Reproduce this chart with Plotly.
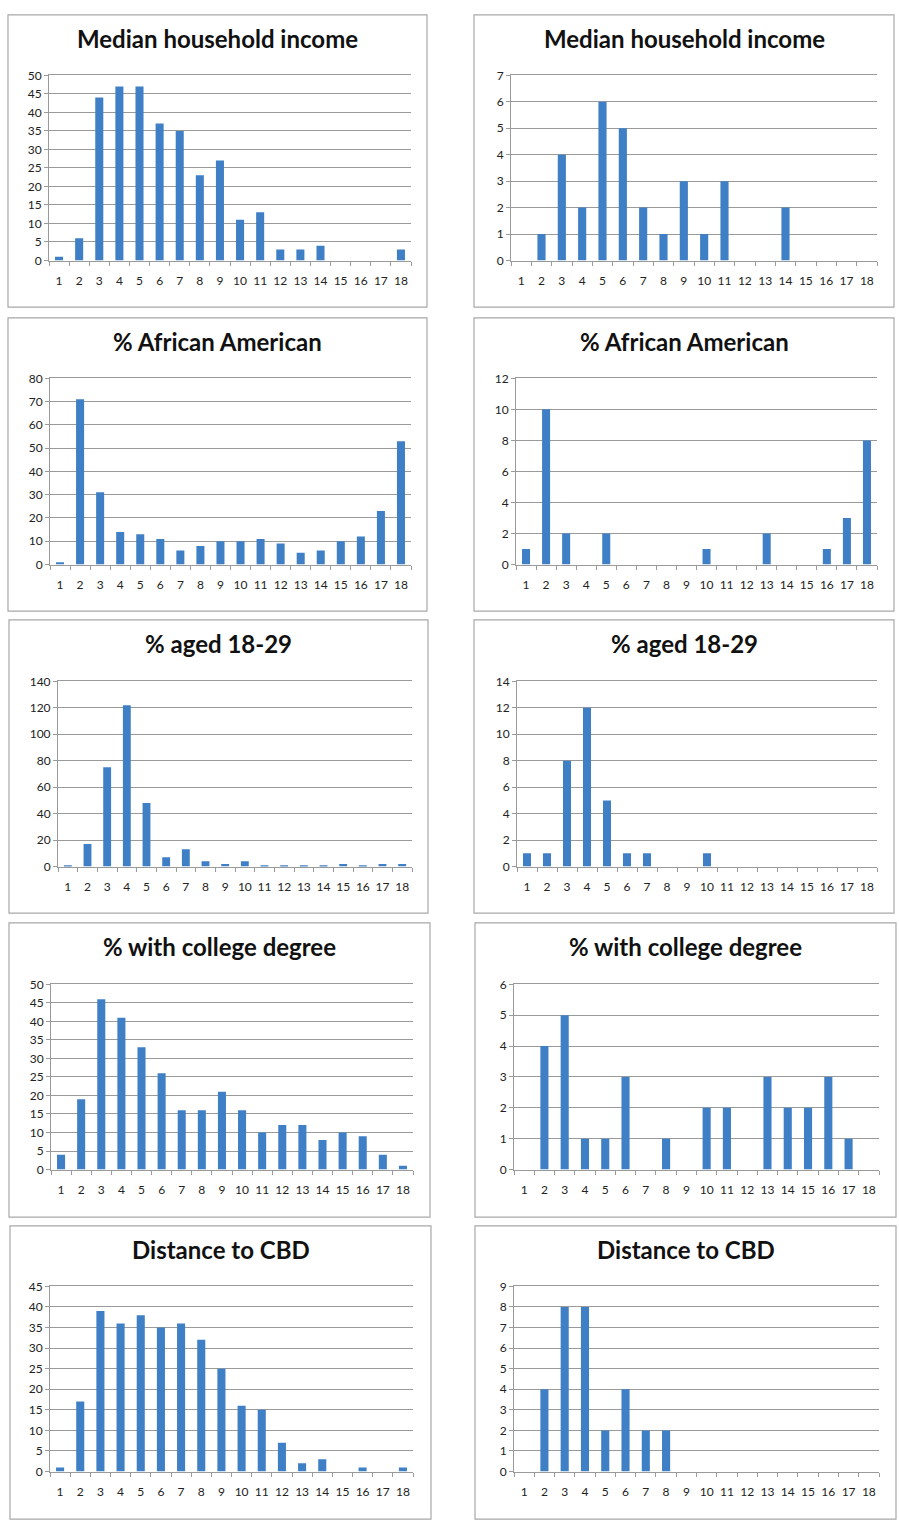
import plotly.graph_objects as go

W, H = 899, 1534

categories = [str(i) for i in range(1, 19)]

income_left = [1, 6, 44, 47, 47, 37, 35, 23, 27, 11, 13, 3, 3, 4, 0, 0, 0, 3]
income_right = [0, 1, 4, 2, 6, 5, 2, 1, 3, 1, 3, 0, 0, 2, 0, 0, 0, 0]
african_left = [1, 71, 31, 14, 13, 11, 6, 8, 10, 10, 11, 9, 5, 6, 10, 12, 23, 53]
african_right = [1, 10, 2, 0, 2, 0, 0, 0, 0, 1, 0, 0, 2, 0, 0, 1, 3, 8]
aged_left = [1, 17, 75, 122, 48, 7, 13, 4, 2, 4, 1, 1, 1, 1, 2, 1, 2, 2]
aged_right = [1, 1, 8, 12, 5, 1, 1, 0, 0, 1, 0, 0, 0, 0, 0, 0, 0, 0]
college_left = [4, 19, 46, 41, 33, 26, 16, 16, 21, 16, 10, 12, 12, 8, 10, 9, 4, 1]
college_right = [0, 4, 5, 1, 1, 3, 0, 1, 0, 2, 2, 0, 3, 2, 2, 3, 1, 0]
cbd_left = [1, 17, 39, 36, 38, 35, 36, 32, 25, 16, 15, 7, 2, 3, 0, 1, 0, 1]
cbd_right = [0, 4, 8, 8, 2, 4, 2, 2, 0, 0, 0, 0, 0, 0, 0, 0, 0, 0]

titles = ["Median household income", "Median household income",
          "% African American", "% African American",
          "% aged 18-29", "% aged 18-29",
          "% with college degree", "% with college degree",
          "Distance to CBD", "Distance to CBD"]
series = [income_left, income_right, african_left, african_right,
          aged_left, aged_right, college_left, college_right,
          cbd_left, cbd_right]
y_max = [50, 7, 80, 12, 140, 14, 50, 6, 45, 9]
y_step = [5, 1, 10, 2, 20, 2, 5, 1, 5, 1]

# plot areas in pixels: left, right, top, bottom
areas = [(49, 411, 68, 255), (511, 877, 68, 255),
         (50, 411, 374, 562), (516, 877, 374, 562),
         (58, 412, 680, 867), (517, 877, 680, 867),
         (51, 413, 986, 1173), (514, 879, 986, 1173),
         (50, 413, 1291, 1478), (514, 879, 1291, 1478)]
# panel frames in pixels: left, right, top, bottom
frames = [(8, 427, 7, 302), (474, 894, 7, 302),
          (8, 427, 313, 609), (474, 894, 313, 609),
          (9, 428, 618, 914), (474, 894, 618, 914),
          (9, 430, 924, 1221), (475, 896, 924, 1221),
          (10, 431, 1230, 1526), (475, 896, 1230, 1526)]

BAR = "#3f7fc6"
GRID = "#9a9a9a"
FONT = "Lato, 'Open Sans', sans-serif"

fig = go.Figure()
layout = dict(width=W, height=H, margin=dict(l=0, r=0, t=0, b=0),
              paper_bgcolor="white", plot_bgcolor="white", showlegend=False,
              bargap=0.6, shapes=[], annotations=[])


def px_x(v):
    return v / W


def px_y(v):
    return 1 - v / H


for i, (vals, title) in enumerate(zip(series, titles)):
    n = i + 1
    xa = "x" if n == 1 else f"x{n}"
    ya = "y" if n == 1 else f"y{n}"
    fig.add_trace(go.Bar(x=categories, y=vals, marker=dict(color=BAR, line=dict(width=0)),
                         xaxis=xa, yaxis=ya, hoverinfo="x+y"))
    l, r, t, b = areas[i]
    # the mirrored x line doubles as the top gridline
    layout[f"xaxis{'' if n == 1 else n}"] = dict(
        domain=[px_x(l), px_x(r)], anchor=ya, type="category",
        range=[-0.5, 17.5], showgrid=False, showline=True, mirror=True,
        linecolor=GRID, linewidth=1,
        ticks="outside", tickson="boundaries", ticklen=4, tickcolor=GRID,
        ticklabelstandoff=9, tickangle=0,
        tickfont=dict(family=FONT, size=12, color="#222222"), fixedrange=True)
    layout[f"yaxis{'' if n == 1 else n}"] = dict(
        domain=[px_y(b), px_y(t)], anchor=xa, range=[0, y_max[i]],
        tick0=0, dtick=y_step[i], showgrid=True, gridcolor=GRID, gridwidth=1,
        showline=True, linecolor=GRID, linewidth=1, zeroline=False,
        ticks="outside", ticklen=4, tickcolor=GRID,
        tickfont=dict(family=FONT, size=12, color="#222222"), fixedrange=True)
    fl, fr, ft, fb = frames[i]
    layout["shapes"].append(dict(type="rect", xref="paper", yref="paper",
                                 x0=px_x(fl), x1=px_x(fr), y0=px_y(fb), y1=px_y(ft),
                                 line=dict(color="#a8a8a8", width=1.2), layer="below"))
    layout["annotations"].append(dict(text=f"<b>{title}</b>", xref="paper", yref="paper",
                                      x=px_x((fl + fr) / 2), y=px_y(ft + 24),
                                      xanchor="center", yanchor="middle", showarrow=False,
                                      font=dict(family=FONT, size=24, color="#111111")))

fig.update_layout(**layout)
fig.write_html("out.html")
